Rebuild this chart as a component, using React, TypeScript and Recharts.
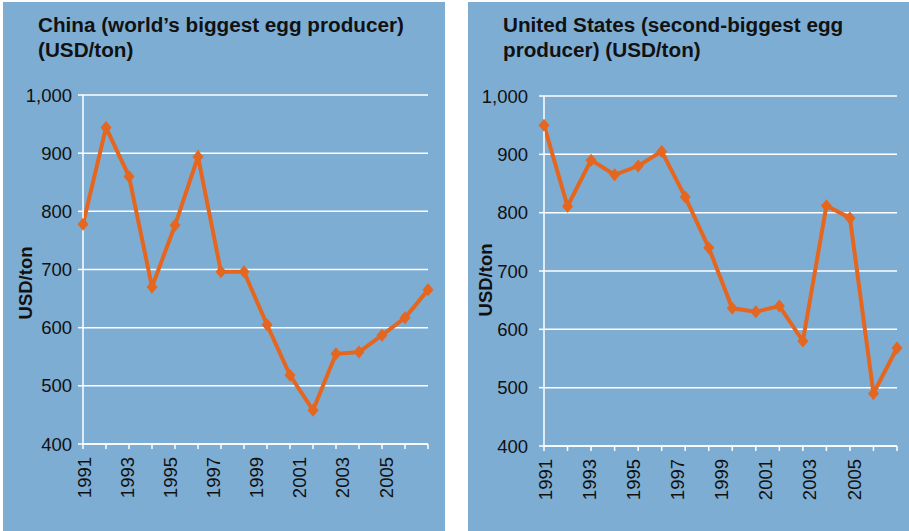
import { LineChart, Line, XAxis, YAxis, CartesianGrid } from "recharts";

// years on the x axis (labels shown every other year)
const years = [
  "1991", "1992", "1993", "1994", "1995", "1996", "1997", "1998",
  "1999", "2000", "2001", "2002", "2003", "2004", "2005", "2006",
];

// China, USD/ton
const chinaValues = [778, 944, 860, 670, 776, 894, 696, 696, 605, 518, 458, 555, 558, 587, 617, 665];

// United States, USD/ton
const usValues = [950, 811, 890, 865, 880, 905, 827, 740, 636, 630, 640, 580, 812, 791, 490, 568];

const yTicks = [400, 500, 600, 700, 800, 900, 1000];

const FONT = "'Liberation Sans', Arial, sans-serif";
const PANEL_BG = "#7eadd3";
const LINE_COLOR = "#e5661e";

const fmt = (v: number) => new Intl.NumberFormat("en-US").format(v);

type DotProps = { cx?: number; cy?: number; index?: number };

const Diamond = ({ cx = 0, cy = 0, index = 0 }: DotProps) => (
  <path
    key={`d-${index}`}
    d={`M${cx},${cy - 6.5} L${cx + 5.5},${cy} L${cx},${cy + 6.5} L${cx - 5.5},${cy} Z`}
    fill={LINE_COLOR}
    stroke="none"
  />
);

type TickProps = {
  x?: number;
  y?: number;
  index?: number;
  payload?: { value: string };
  x0?: number;
};

// labels sit a little tighter than the tick marks, like in the original sheet
const YearTick = ({ x = 0, y = 0, index = 0, payload, x0 = 0 }: TickProps) => {
  if (index % 2 !== 0) return null;
  const lx = x0 + ((x - x0) * 15) / 16 + 1;
  return (
    <text
      transform={`translate(${lx}, ${y + 6}) rotate(-90)`}
      textAnchor="end"
      dy="0.36em"
      fontSize={18.5}
      fontFamily={FONT}
      fill="#111"
    >
      {payload?.value}
    </text>
  );
};

type TitleProps = { cx: number; cy: number };

const YTitle = ({ cx, cy }: TitleProps) => (
  <text
    transform={`translate(${cx}, ${cy}) rotate(-90)`}
    textAnchor="middle"
    dy="0.36em"
    fontSize={18.5}
    fontWeight="bold"
    fontFamily={FONT}
    fill="#111"
  >
    USD/ton
  </text>
);

type PanelProps = {
  left: number;
  width: number;
  title: string[];
  values: number[];
  margin: { top: number; right: number; bottom: number; left: number };
  yWidth: number;
  xHeight: number;
  yTickMargin: number;
  labelPos: TitleProps;
};

function Panel({ left, width, title, values, margin, yWidth, xHeight, yTickMargin, labelPos }: PanelProps) {
  const data = years.map((year, i) => ({ year, value: values[i] }));
  return (
    <div
      style={{
        position: "absolute",
        left,
        top: 2,
        width,
        height: 529,
        background: PANEL_BG,
      }}
    >
      <div
        style={{
          position: "absolute",
          left: 35,
          top: 10,
          fontFamily: FONT,
          fontWeight: "bold",
          fontSize: 20.7,
          lineHeight: "25px",
          color: "#111",
          whiteSpace: "nowrap",
        }}
      >
        {title.map((t) => (
          <div key={t}>{t}</div>
        ))}
      </div>
      <div style={{ position: "absolute", left: 0, top: 0 }}>
        <LineChart width={width} height={529} data={data} margin={margin}>
          <CartesianGrid horizontal vertical={false} stroke="#ffffff" strokeWidth={1.5} />
          <XAxis
            dataKey="year"
            interval={0}
            height={xHeight}
            stroke="#ffffff"
            tickSize={5}
            tickLine={{ stroke: "#ffffff", strokeWidth: 1.5 }}
            axisLine={{ stroke: "#ffffff", strokeWidth: 1.5 }}
            tick={<YearTick x0={margin.left + yWidth} />}
          />
          <YAxis
            domain={[400, 1000]}
            ticks={yTicks}
            width={yWidth}
            tickSize={5}
            tickMargin={yTickMargin}
            tickFormatter={fmt}
            axisLine={{ stroke: "#ffffff", strokeWidth: 1.5 }}
            tickLine={{ stroke: "#ffffff", strokeWidth: 1.5 }}
            tick={{ fontSize: 18.5, fontFamily: FONT, fill: "#111" }}
            label={<YTitle cx={labelPos.cx} cy={labelPos.cy} />}
          />
          <Line
            type="linear"
            dataKey="value"
            stroke={LINE_COLOR}
            strokeWidth={4}
            dot={<Diamond />}
            activeDot={false}
            isAnimationActive={false}
          />
        </LineChart>
      </div>
    </div>
  );
}

export default function App() {
  return (
    <div
      style={{
        position: "absolute",
        left: 0,
        top: 0,
        width: 909,
        height: 531,
        background: "#ffffff",
        overflow: "hidden",
      }}
    >
      <Panel
        left={3}
        width={442}
        title={["China (world\u2019s biggest egg producer)", "(USD/ton)"]}
        values={chinaValues}
        margin={{ top: 93, right: 17, bottom: 0, left: 0 }}
        yWidth={80}
        xHeight={87}
        yTickMargin={6}
        labelPos={{ cx: 22, cy: 281 }}
      />
      <Panel
        left={468}
        width={441}
        title={["United States (second-biggest egg", "producer) (USD/ton)"]}
        values={usValues}
        margin={{ top: 94, right: 12, bottom: 0, left: 0 }}
        yWidth={76}
        xHeight={85}
        yTickMargin={11}
        labelPos={{ cx: 17, cy: 278 }}
      />
    </div>
  );
}
